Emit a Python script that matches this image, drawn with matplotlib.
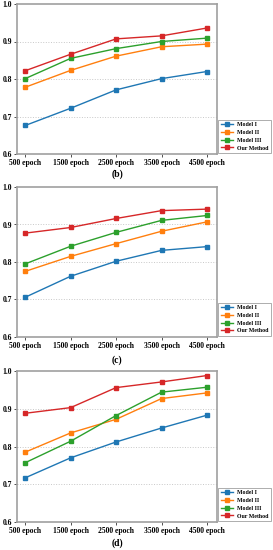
import matplotlib
matplotlib.use("Agg")
import matplotlib.pyplot as plt

epochs = ["500 epoch", "1500 epoch", "2500 epoch", "3500 epoch", "4500 epoch"]
series_names = ["Model I", "Model II", "Model III", "Our Method"]
colors = ["#1f77b4", "#ff7f0e", "#2ca02c", "#d62728"]

panel_b = [
    [0.676, 0.722, 0.771, 0.801, 0.820],
    [0.778, 0.823, 0.861, 0.886, 0.893],
    [0.801, 0.855, 0.881, 0.900, 0.909],
    [0.822, 0.866, 0.907, 0.915, 0.936],
]
panel_c = [
    [0.706, 0.762, 0.802, 0.831, 0.841],
    [0.775, 0.815, 0.849, 0.882, 0.907],
    [0.795, 0.842, 0.879, 0.911, 0.924],
    [0.877, 0.892, 0.916, 0.937, 0.941],
]
panel_d = [
    [0.717, 0.770, 0.812, 0.849, 0.883],
    [0.785, 0.836, 0.872, 0.927, 0.942],
    [0.757, 0.814, 0.882, 0.944, 0.957],
    [0.888, 0.903, 0.956, 0.971, 0.988],
]
captions = ["(b)", "(c)", "(d)"]
yticks = [0.6, 0.7, 0.8, 0.9, 1.0]

plt.rcParams['font.family'] = ['Liberation Serif', 'DejaVu Serif']

fig = plt.figure(figsize=(2.73, 5.5), dpi=100)
W, H = 273, 550
panels = [panel_b, panel_c, panel_d]
tops = [4, 187, 371]
bottoms = [154, 337, 522]
cap_y = [174, 360, 543]
left, right = 17, 217

for data, top, bot, cap, cy in zip(panels, tops, bottoms, captions, cap_y):
    ax = fig.add_axes([left / W, 1 - bot / H, (right - left) / W, (bot - top) / H])
    x = list(range(len(epochs)))
    for name, vals, c in zip(series_names, data, colors):
        ax.plot(x, vals, color=c, marker='s', markersize=3, linewidth=1.0, label=name)
    ax.set_ylim(0.6, 1.0)
    ax.set_xlim(-0.18, 4.22)
    ax.set_yticks(yticks)
    ax.set_yticklabels([f"{v:.1f}" for v in yticks])
    ax.set_xticks(x)
    ax.set_xticklabels(epochs)
    for lbl in ax.get_xticklabels() + ax.get_yticklabels():
        lbl.set_fontweight('bold')
        lbl.set_fontsize(5.5)
    ax.tick_params(length=2, width=0.6, pad=1.5, colors='#333333', labelcolor='black')
    for sp in ax.spines.values():
        sp.set_color('#a0a0a0')
        sp.set_linewidth(1.2)
    for yv in [0.7, 0.8, 0.9]:
        ax.axhline(yv, color='#c8c8c8', linestyle=':', linewidth=0.7, zorder=0)
    leg = ax.legend(loc='lower left', bbox_to_anchor=(1.0, 0.0),
                    prop={'weight': 'bold', 'size': 4.2}, frameon=True, fancybox=False,
                    borderpad=0.35, labelspacing=0.45, handlelength=2.2, handletextpad=0.7,
                    borderaxespad=0.25)
    leg.get_frame().set_edgecolor('#888888')
    leg.get_frame().set_linewidth(0.6)
    fig.text((left + right) / 2 / W, 1 - cy / H, cap, ha='center', va='center',
             fontsize=7, fontweight='bold')

fig.savefig("out.png", dpi=100)
